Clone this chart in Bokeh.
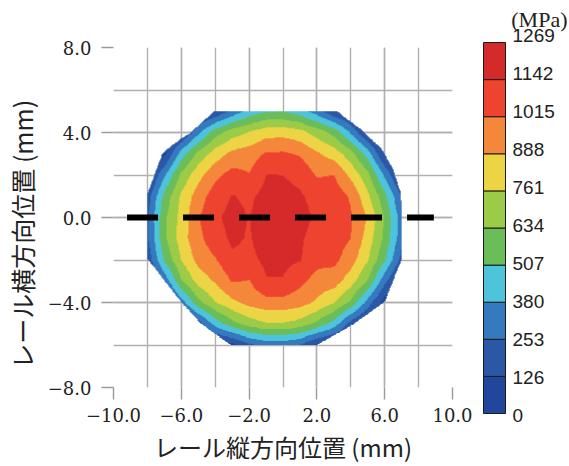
import numpy as np
from bokeh.plotting import figure
from bokeh.models import Range1d, FixedTicker, LinearColorMapper
from bokeh.layouts import row
from bokeh.embed import file_html
from bokeh.resources import INLINE
from bokeh.core.properties import value

# ---------------- data ----------------
# measurement grid (mm): columns x = -8..7, rows y = 5..-6 (top to bottom)
GRID_X = [-8, -7, -6, -5, -4, -3, -2, -1, 0, 1, 2, 3, 4, 5, 6, 7]
GRID_Y = [5, 4, 3, 2, 1, 0, -1, -2, -3, -4, -5, -6]

Z_Y5 = [0, 0, 0, 32, 112, 275, 409, 482, 488, 424, 293, 126, 36, 0, 0, 0]
Z_Y4 = [0, 0, 75, 338, 571, 693, 760, 830, 835, 800, 700, 582, 353, 76, 0, 0]
Z_Y3 = [0, 86, 432, 669, 816, 918, 950, 1025, 1028, 997, 900, 825, 678, 438, 80, 0]
Z_Y2 = [51, 355, 661, 842, 980, 1060, 1020, 1143, 1141, 1110, 1000, 1015, 850, 665, 347, 46]
Z_Y1 = [180, 545, 781, 951, 1081, 1146, 1120, 1180, 1175, 1155, 1100, 1080, 1000, 784, 540, 230]
Z_Y0 = [240, 605, 810, 1005, 1120, 1180, 1138, 1210, 1200, 1185, 1120, 1080, 1025, 880, 615, 300]
Z_YM1 = [235, 605, 828, 985, 1090, 1165, 1132, 1205, 1200, 1155, 1100, 1075, 1015, 831, 600, 290]
Z_YM2 = [160, 525, 765, 934, 1005, 1120, 1110, 1170, 1170, 1150, 1060, 1050, 945, 768, 520, 200]
Z_YM3 = [37, 291, 622, 809, 905, 1025, 1010, 1135, 1135, 1050, 960, 950, 817, 626, 284, 32]
Z_YM4 = [0, 58, 320, 600, 759, 861, 931, 968, 971, 940, 870, 769, 610, 325, 56, 0]
Z_YM5 = [0, 0, 39, 184, 434, 590, 700, 750, 750, 715, 602, 453, 195, 40, 0, 0]
Z_YM6 = [0, 0, 0, 0, 38, 81, 230, 300, 300, 250, 95, 42, 0, 0, 0, 0]
STRESS_ROWS = [Z_Y5, Z_Y4, Z_Y3, Z_Y2, Z_Y1, Z_Y0, Z_YM1, Z_YM2, Z_YM3, Z_YM4, Z_YM5, Z_YM6]

# outline of the measured region (mm)
OUTLINE_X = [-4.0, 3.1, 4.6, 5.8, 6.5, 6.9, 7.0, 7.0, 6.0, 4.2, 2.0, -3.1, -4.85, -6.0, -8.0, -8.0, -7.1, -6.4, -5.4]
OUTLINE_Y = [5.0, 5.0, 4.1, 3.2, 2.2, 1.2, 0.5, -1.95, -3.95, -5.0, -6.0, -6.0, -5.0, -4.0, -1.95, 1.1, 3.0, 3.45, 4.0]

# dashed reference line (mm)
LINE_X = [-9.2, 8.9]
LINE_Y = [0.0, 0.0]

LEVELS = [0, 126.9, 253.8, 380.7, 507.6, 634.5, 761.4, 888.3, 1015.2, 1142.1, 1269]
LEVEL_LABELS = ["0", "126", "253", "380", "507", "634", "761", "888", "1015", "1142", "1269"]
COLORS = ["#21469b", "#2a58a6", "#3579be", "#4dc4dc", "#6bbd5a",
          "#9ccb48", "#ecd444", "#f5873a", "#ee432f", "#d52a2a"]
UNIT_LABEL = "(MPa)"

X_TICKS = [-10, -6, -2, 2, 6, 10]
X_TICK_LABELS = ["\u221210.0", "\u22126.0", "\u22122.0", "2.0", "6.0", "10.0"]
X_MINOR = [-10, -8, -6, -4, -2, 0, 2, 4, 6, 8, 10]
Y_TICKS = [-8, -4, 0, 4, 8]
Y_TICK_LABELS = ["\u22128.0", "\u22124.0", "0.0", "4.0", "8.0"]
Y_MINOR = [-8, -6, -4, -2, 0, 2, 4, 6, 8]
X_LABEL = "レール縦方向位置 (mm)"
Y_LABEL = "レール横方向位置 (mm)"

# ---------------- field rendering (bilinear between grid nodes) ----------------
gx = np.array(GRID_X, float)
gy = np.array(GRID_Y[::-1], float)
Z = np.array(STRESS_ROWS, float)[::-1]          # row 0 -> lowest y
res = 0.025
nx = int(round((gx[-1] - gx[0]) / res))
ny = int(round((gy[-1] - gy[0]) / res))
fx = gx[0] + (np.arange(nx) + 0.5) * res
fy = gy[0] + (np.arange(ny) + 0.5) * res
ix = np.clip(np.floor(fx - gx[0]).astype(int), 0, len(gx) - 2)
iy = np.clip(np.floor(fy - gy[0]).astype(int), 0, len(gy) - 2)
tx = (fx - gx[ix])[None, :]
ty = (fy - gy[iy])[:, None]
F = (Z[np.ix_(iy, ix)] * (1 - tx) * (1 - ty) + Z[np.ix_(iy, ix + 1)] * tx * (1 - ty)
     + Z[np.ix_(iy + 1, ix)] * (1 - tx) * ty + Z[np.ix_(iy + 1, ix + 1)] * tx * ty)

PX, PY = np.meshgrid(fx, fy)
vx = np.array(OUTLINE_X)
vy = np.array(OUTLINE_Y)
inside = np.zeros(PX.shape, bool)
j = len(vx) - 1
for i in range(len(vx)):
    cond = ((vy[i] > PY) != (vy[j] > PY))
    xint = (vx[j] - vx[i]) * (PY - vy[i]) / (vy[j] - vy[i] + 1e-12) + vx[i]
    inside ^= cond & (PX < xint)
    j = i
F[~inside] = np.nan

mapper = LinearColorMapper(palette=COLORS, low=LEVELS[0], high=LEVELS[-1],
                           nan_color="rgba(0,0,0,0)", high_color=COLORS[-1], low_color=COLORS[0])

# ---------------- main figure ----------------
FIG_H = 466
p = figure(width=478, height=FIG_H, x_range=Range1d(-10, 10), y_range=Range1d(-8, 8),
           output_backend="svg", toolbar_location=None,
           min_border_left=112, min_border_right=26, min_border_top=47, min_border_bottom=78)
p.frame_align = False
p.outline_line_color = None
p.background_fill_color = "white"
p.border_fill_color = "white"

p.image(image=[F], x=gx[0], y=gy[0], dw=gx[-1] - gx[0], dh=gy[-1] - gy[0], color_mapper=mapper)
p.line(LINE_X, LINE_Y, line_color="black", line_width=6, line_dash="31 25", line_cap="butt")

xt = FixedTicker(ticks=X_TICKS, minor_ticks=X_MINOR)
yt = FixedTicker(ticks=Y_TICKS, minor_ticks=Y_MINOR)
p.xaxis.ticker = xt
p.yaxis.ticker = yt
p.xgrid.ticker = xt
p.ygrid.ticker = yt
p.xaxis.major_label_overrides = dict(zip(X_TICKS, X_TICK_LABELS))
p.yaxis.major_label_overrides = dict(zip(Y_TICKS, Y_TICK_LABELS))

for g in (p.xgrid, p.ygrid):
    g.grid_line_color = "#b0b0b0"
    g.grid_line_width = 1.4
    g.minor_grid_line_color = "#b0b0b0"
    g.minor_grid_line_width = 1.4

for ax in (p.xaxis, p.yaxis):
    ax.axis_line_color = None
    ax.major_tick_line_color = "#9a9a9a"
    ax.major_tick_line_width = 1.4
    ax.major_tick_out = 12
    ax.major_tick_in = 0
    ax.minor_tick_out = 0
    ax.minor_tick_in = 0
    ax.major_label_text_font = "DejaVu Serif"
    ax.major_label_text_font_size = "18px"
    ax.major_label_text_color = "#222222"
    ax.axis_label_text_font = "Noto Sans CJK JP"
    ax.axis_label_text_font_size = "24px"
    ax.axis_label_text_font_style = "normal"
    ax.axis_label_text_color = "#222222"

p.xaxis.axis_label = X_LABEL
# trailing no-break spaces only nudge the rotated title downwards, as in the original
p.yaxis.axis_label = Y_LABEL + "\u00a0" * 6
p.yaxis.axis_label_text_font_size = "25px"
p.xaxis.major_label_standoff = 8
p.xaxis.axis_label_standoff = 4
p.yaxis.major_label_standoff = 10
p.yaxis.axis_label_standoff = 5

# ---------------- colour bar (separate panel) ----------------
CB_W = 91
bar_top_px, bar_bot_px = 42, 413
ppu = (bar_bot_px - bar_top_px) / LEVELS[-1]
cb = figure(width=CB_W, height=FIG_H, x_range=Range1d(0, CB_W),
            y_range=Range1d(-(FIG_H - bar_bot_px) / ppu, LEVELS[-1] + bar_top_px / ppu),
            output_backend="svg", toolbar_location=None, min_border=0,
            x_axis_location=None, y_axis_location=None)
cb.frame_align = False
cb.outline_line_color = None
cb.xgrid.visible = False
cb.ygrid.visible = False
cb.background_fill_color = "white"
cb.border_fill_color = "white"

cb.quad(left=5, right=27, bottom=LEVELS[:-1], top=LEVELS[1:], fill_color=COLORS,
        line_color="#1a1a1a", line_width=1)
label_y = [lv * 1.0229 - 6.8 for lv in LEVELS]
cb.text(x=[34] * len(LEVELS), y=label_y, text=LEVEL_LABELS,
        text_font=value("Liberation Sans"), text_font_size="19px",
        text_baseline="middle", text_align="left", text_color="#222222")
cb.text(x=[89], y=[LEVELS[-1] + 78], text=[UNIT_LABEL],
        text_font=value("Liberation Serif"), text_font_size="22px",
        text_baseline="middle", text_align="right", text_color="#222222")

layout = row(p, cb)
open("out.html", "w").write(file_html(layout, INLINE))
